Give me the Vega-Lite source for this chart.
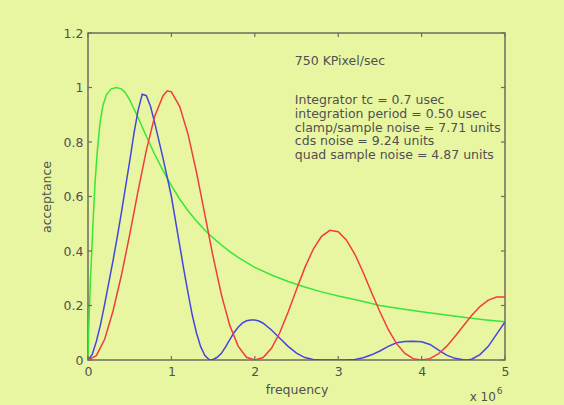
{
  "$schema": "https://vega.github.io/schema/vega-lite/v6.json",
  "width": 417,
  "height": 327,
  "autosize": "none",
  "padding": {"left": 88, "top": 33, "right": 59, "bottom": 45},
  "background": "#e9f6a1",
  "config": {
    "view": {"stroke": "#6e6e5c", "strokeWidth": 1.5},
    "font": "DejaVu Sans",
    "axis": {"grid": false, "domain": false, "ticks": false, "labelFlush": false, "labelOverlap": false,
      "labelColor": "#505050", "labelFont": "DejaVu Sans", "labelFontSize": 12.5,
      "titleColor": "#505050", "titleFont": "DejaVu Sans", "titleFontSize": 12.5, "titleFontWeight": "normal"}
  },
  "datasets": {
    "xt": [{"v":0},{"v":1},{"v":2},{"v":3},{"v":4},{"v":5}],
    "yt": [{"v":0},{"v":0.2},{"v":0.4},{"v":0.6},{"v":0.8},{"v":1},{"v":1.2}],
    "curves": [
      {"s":"green","x":0,"y":0},{"s":"green","x":0.005,"y":0.08},{"s":"green","x":0.016,"y":0.18},{"s":"green","x":0.03,"y":0.3},{"s":"green","x":0.044,"y":0.39},{"s":"green","x":0.06,"y":0.5},{"s":"green","x":0.084,"y":0.65},{"s":"green","x":0.11,"y":0.76},{"s":"green","x":0.144,"y":0.87},{"s":"green","x":0.18,"y":0.935},{"s":"green","x":0.224,"y":0.975},{"s":"green","x":0.28,"y":0.995},{"s":"green","x":0.34,"y":1.0},{"s":"green","x":0.4,"y":0.995},{"s":"green","x":0.45,"y":0.98},{"s":"green","x":0.5,"y":0.955},{"s":"green","x":0.6,"y":0.89},{"s":"green","x":0.7,"y":0.82},{"s":"green","x":0.8,"y":0.755},{"s":"green","x":0.9,"y":0.695},{"s":"green","x":1.0,"y":0.64},{"s":"green","x":1.1,"y":0.59},{"s":"green","x":1.2,"y":0.548},{"s":"green","x":1.3,"y":0.51},{"s":"green","x":1.4,"y":0.477},{"s":"green","x":1.5,"y":0.448},{"s":"green","x":1.6,"y":0.422},{"s":"green","x":1.7,"y":0.398},{"s":"green","x":1.8,"y":0.377},{"s":"green","x":1.9,"y":0.358},{"s":"green","x":2.0,"y":0.34},{"s":"green","x":2.2,"y":0.312},{"s":"green","x":2.4,"y":0.288},{"s":"green","x":2.6,"y":0.268},{"s":"green","x":2.8,"y":0.25},{"s":"green","x":3.0,"y":0.235},{"s":"green","x":3.25,"y":0.218},{"s":"green","x":3.5,"y":0.2},{"s":"green","x":3.75,"y":0.188},{"s":"green","x":4.0,"y":0.177},{"s":"green","x":4.25,"y":0.167},{"s":"green","x":4.5,"y":0.157},{"s":"green","x":4.75,"y":0.148},{"s":"green","x":5.0,"y":0.14},
      {"s":"blue","x":0,"y":0},{"s":"blue","x":0.05,"y":0.02},{"s":"blue","x":0.1,"y":0.068},{"s":"blue","x":0.15,"y":0.13},{"s":"blue","x":0.2,"y":0.205},{"s":"blue","x":0.25,"y":0.285},{"s":"blue","x":0.3,"y":0.365},{"s":"blue","x":0.35,"y":0.45},{"s":"blue","x":0.4,"y":0.54},{"s":"blue","x":0.45,"y":0.635},{"s":"blue","x":0.5,"y":0.73},{"s":"blue","x":0.55,"y":0.83},{"s":"blue","x":0.6,"y":0.915},{"s":"blue","x":0.65,"y":0.975},{"s":"blue","x":0.7,"y":0.97},{"s":"blue","x":0.75,"y":0.93},{"s":"blue","x":0.8,"y":0.87},{"s":"blue","x":0.85,"y":0.805},{"s":"blue","x":0.9,"y":0.74},{"s":"blue","x":0.95,"y":0.67},{"s":"blue","x":1.0,"y":0.6},{"s":"blue","x":1.05,"y":0.51},{"s":"blue","x":1.1,"y":0.42},{"s":"blue","x":1.15,"y":0.33},{"s":"blue","x":1.2,"y":0.245},{"s":"blue","x":1.25,"y":0.165},{"s":"blue","x":1.3,"y":0.1},{"s":"blue","x":1.35,"y":0.05},{"s":"blue","x":1.4,"y":0.017},{"s":"blue","x":1.45,"y":0.002},{"s":"blue","x":1.47,"y":0},{"s":"blue","x":1.5,"y":0.002},{"s":"blue","x":1.55,"y":0.01},{"s":"blue","x":1.6,"y":0.025},{"s":"blue","x":1.65,"y":0.048},{"s":"blue","x":1.7,"y":0.075},{"s":"blue","x":1.75,"y":0.1},{"s":"blue","x":1.8,"y":0.12},{"s":"blue","x":1.85,"y":0.135},{"s":"blue","x":1.9,"y":0.144},{"s":"blue","x":1.95,"y":0.147},{"s":"blue","x":2.0,"y":0.147},{"s":"blue","x":2.05,"y":0.143},{"s":"blue","x":2.1,"y":0.135},{"s":"blue","x":2.2,"y":0.11},{"s":"blue","x":2.3,"y":0.08},{"s":"blue","x":2.4,"y":0.05},{"s":"blue","x":2.5,"y":0.025},{"s":"blue","x":2.6,"y":0.009},{"s":"blue","x":2.7,"y":0.002},{"s":"blue","x":2.8,"y":0},{"s":"blue","x":2.9,"y":0},{"s":"blue","x":3.0,"y":0},{"s":"blue","x":3.1,"y":0},{"s":"blue","x":3.2,"y":0.002},{"s":"blue","x":3.3,"y":0.008},{"s":"blue","x":3.4,"y":0.019},{"s":"blue","x":3.5,"y":0.033},{"s":"blue","x":3.6,"y":0.05},{"s":"blue","x":3.7,"y":0.063},{"s":"blue","x":3.8,"y":0.068},{"s":"blue","x":3.9,"y":0.069},{"s":"blue","x":4.0,"y":0.067},{"s":"blue","x":4.1,"y":0.057},{"s":"blue","x":4.2,"y":0.037},{"s":"blue","x":4.3,"y":0.018},{"s":"blue","x":4.4,"y":0.006},{"s":"blue","x":4.5,"y":0.001},{"s":"blue","x":4.55,"y":0},{"s":"blue","x":4.6,"y":0.003},{"s":"blue","x":4.7,"y":0.02},{"s":"blue","x":4.8,"y":0.05},{"s":"blue","x":4.9,"y":0.095},{"s":"blue","x":5.0,"y":0.14},
      {"s":"red","x":0,"y":0},{"s":"red","x":0.1,"y":0.016},{"s":"red","x":0.2,"y":0.076},{"s":"red","x":0.3,"y":0.18},{"s":"red","x":0.4,"y":0.31},{"s":"red","x":0.5,"y":0.46},{"s":"red","x":0.6,"y":0.62},{"s":"red","x":0.7,"y":0.77},{"s":"red","x":0.8,"y":0.895},{"s":"red","x":0.9,"y":0.97},{"s":"red","x":0.95,"y":0.988},{"s":"red","x":1.0,"y":0.984},{"s":"red","x":1.1,"y":0.93},{"s":"red","x":1.2,"y":0.828},{"s":"red","x":1.3,"y":0.69},{"s":"red","x":1.4,"y":0.535},{"s":"red","x":1.5,"y":0.379},{"s":"red","x":1.6,"y":0.239},{"s":"red","x":1.7,"y":0.127},{"s":"red","x":1.8,"y":0.051},{"s":"red","x":1.9,"y":0.01},{"s":"red","x":2.0,"y":0},{"s":"red","x":2.1,"y":0.009},{"s":"red","x":2.2,"y":0.043},{"s":"red","x":2.3,"y":0.101},{"s":"red","x":2.4,"y":0.176},{"s":"red","x":2.5,"y":0.259},{"s":"red","x":2.6,"y":0.339},{"s":"red","x":2.7,"y":0.406},{"s":"red","x":2.8,"y":0.454},{"s":"red","x":2.9,"y":0.476},{"s":"red","x":3.0,"y":0.471},{"s":"red","x":3.1,"y":0.44},{"s":"red","x":3.2,"y":0.388},{"s":"red","x":3.3,"y":0.321},{"s":"red","x":3.4,"y":0.248},{"s":"red","x":3.5,"y":0.177},{"s":"red","x":3.6,"y":0.112},{"s":"red","x":3.7,"y":0.06},{"s":"red","x":3.8,"y":0.024},{"s":"red","x":3.9,"y":0.005},{"s":"red","x":4.0,"y":0},{"s":"red","x":4.1,"y":0.005},{"s":"red","x":4.2,"y":0.022},{"s":"red","x":4.3,"y":0.05},{"s":"red","x":4.4,"y":0.086},{"s":"red","x":4.5,"y":0.125},{"s":"red","x":4.6,"y":0.163},{"s":"red","x":4.7,"y":0.196},{"s":"red","x":4.8,"y":0.22},{"s":"red","x":4.9,"y":0.231},{"s":"red","x":5.0,"y":0.231}
    ]
  },
  "layer": [
    {
      "data": {"name": "curves"},
      "mark": {"type": "line", "strokeWidth": 1.5, "clip": true},
      "encoding": {
        "x": {"field": "x", "type": "quantitative", "scale": {"domain": [0, 5], "nice": false},
          "axis": {"values": [0,1,2,3,4,5], "format": "~g", "labelPadding": 5, "title": "frequency", "titlePadding": 6}},
        "y": {"field": "y", "type": "quantitative", "scale": {"domain": [0, 1.2], "nice": false, "zero": false},
          "axis": {"values": [0,0.2,0.4,0.6,0.8,1,1.2], "format": "~g", "labelPadding": 5, "title": "acceptance", "titlePadding": 10}},
        "color": {"field": "s", "type": "nominal", "legend": null,
          "scale": {"domain": ["green", "blue", "red"], "range": ["#38e638", "#4545e0", "#f03c3c"]}},
        "order": {"field": "x", "type": "quantitative"}
      }
    },
    {
      "data": {"name": "xt"},
      "mark": {"type": "rule", "color": "#6e6e5c", "strokeWidth": 1.2},
      "encoding": {"x": {"field": "v", "type": "quantitative"}, "y": {"datum": 1.2}, "y2": {"datum": 1.185}}
    },
    {
      "data": {"name": "xt"},
      "mark": {"type": "rule", "color": "#6e6e5c", "strokeWidth": 1.2},
      "encoding": {"x": {"field": "v", "type": "quantitative"}, "y": {"datum": 0}, "y2": {"datum": 0.015}}
    },
    {
      "data": {"name": "yt"},
      "mark": {"type": "rule", "color": "#6e6e5c", "strokeWidth": 1.2},
      "encoding": {"y": {"field": "v", "type": "quantitative"}, "x": {"datum": 5}, "x2": {"datum": 4.952}}
    },
    {
      "data": {"name": "yt"},
      "mark": {"type": "rule", "color": "#6e6e5c", "strokeWidth": 1.2},
      "encoding": {"y": {"field": "v", "type": "quantitative"}, "x": {"datum": 0}, "x2": {"datum": 0.048}}
    },
    {
      "data": {"values": [{}]},
      "mark": {"type": "text", "align": "left", "baseline": "middle", "font": "DejaVu Sans", "fontSize": 12.5, "color": "#505050"},
      "encoding": {"x": {"datum": 2.48}, "y": {"datum": 1.097}, "text": {"value": "750 KPixel/sec"}}
    },
    {
      "data": {"values": [{}]},
      "mark": {"type": "text", "align": "left", "baseline": "top", "font": "DejaVu Sans", "fontSize": 12.5, "lineHeight": 13.7, "color": "#505050"},
      "encoding": {"x": {"datum": 2.48}, "y": {"datum": 0.975},
        "text": {"value": ["Integrator tc = 0.7 usec", "integration period = 0.50 usec", "clamp/sample noise = 7.71 units", "cds noise = 9.24 units", "quad sample noise = 4.87 units"]}}
    },
    {
      "data": {"values": [{}]},
      "mark": {"type": "text", "align": "right", "baseline": "middle", "font": "DejaVu Sans", "fontSize": 12, "color": "#505050", "clip": false},
      "encoding": {"x": {"datum": 4.89}, "y": {"datum": -0.136}, "text": {"value": "x 10"}}
    },
    {
      "data": {"values": [{}]},
      "mark": {"type": "text", "align": "left", "baseline": "middle", "font": "DejaVu Sans", "fontSize": 9, "color": "#505050", "clip": false},
      "encoding": {"x": {"datum": 4.9}, "y": {"datum": -0.115}, "text": {"value": "6"}}
    }
  ]
}
